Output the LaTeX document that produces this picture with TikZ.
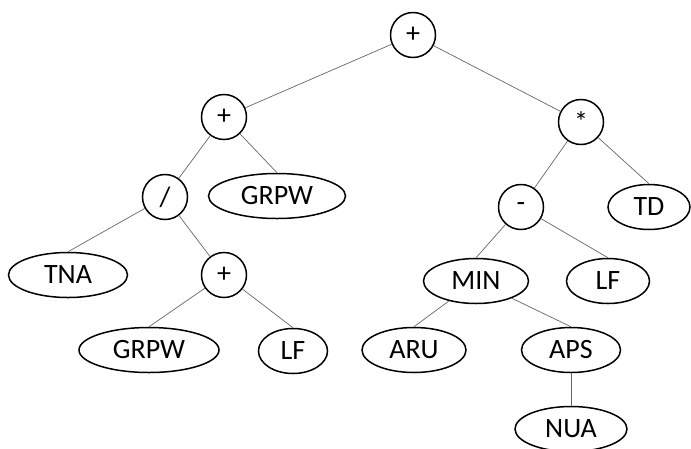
\documentclass[tikz,border=0pt]{standalone}
\usepackage{fontspec}
\setmainfont{Carlito}
\usetikzlibrary{shapes.geometric}

\begin{document}
\begin{tikzpicture}[x=1pt, y=-1pt,
	op/.style={draw, circle, line width=1.5pt, minimum size=45pt, inner sep=0pt, font=\fontsize{28}{33}\selectfont},
	leaf/.style={draw, ellipse, line width=1.5pt, minimum height=45pt, inner sep=0pt, font=\fontsize{28}{33}\selectfont},
	branch/.style={black!60, line width=0.7pt}]
	\useasboundingbox (0,0) rectangle (691,448);

	% Define operators
	\node[op] (Root) at (413,35) {+};
	\node[op] (PlusL) at (224,117) {+};
	\node[op] (Times) at (581,122) {*};
	\node[op] (Divide) at (165,197) {/};
	\node[op] (Minus) at (521,207) {-};
	\node[op] (PlusB) at (224,275) {+};

	% Define leaves
	\node[leaf, minimum width=137pt] (GrpwA) at (277,196) {GRPW};
	\node[leaf, minimum width=82pt] (TD) at (649,207) {TD};
	\node[leaf, minimum width=119pt] (TNA) at (68,275) {TNA};
	\node[leaf, minimum width=105pt] (MIN) at (476,281) {MIN};
	\node[leaf, minimum width=83pt] (LfB) at (608,281) {LF};
	\node[leaf, minimum width=140pt] (GrpwB) at (149,350) {GRPW};
	\node[leaf, minimum width=69pt] (LfA) at (293,351) {LF};
	\node[leaf, minimum width=104pt] (ARU) at (414,350) {ARU};
	\node[leaf, minimum width=99pt] (APS) at (571,350) {APS};
	\node[leaf, minimum width=112pt] (NUA) at (571,429) {NUA};

	% Left branch
	\draw[branch] (Root) -- (PlusL);
	\draw[branch] (PlusL) -- (Divide);
	\draw[branch] (PlusL) -- (GrpwA.north);
	\draw[branch] (Divide) -- (TNA.north);
	\draw[branch] (Divide) -- (PlusB);
	\draw[branch] (PlusB) -- (GrpwB.north);
	\draw[branch] (PlusB) -- (LfA.north);

	% Right branch
	\draw[branch] (Root) -- (Times);
	\draw[branch] (Times) -- (Minus);
	\draw[branch] (Times) -- (TD.north);
	\draw[branch] (Minus) -- (MIN.north);
	\draw[branch] (Minus) -- (LfB.north);
	\draw[branch] (MIN) -- (ARU.north);
	\draw[branch] (MIN) -- (APS.north);
	\draw[branch] (APS) -- (NUA.north);
\end{tikzpicture}
\end{document}
